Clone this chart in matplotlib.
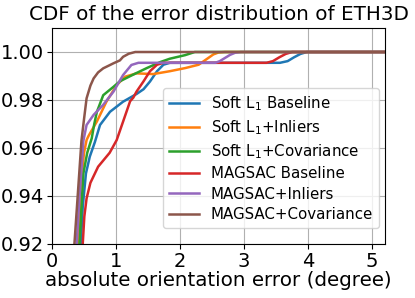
import matplotlib
matplotlib.use("Agg")
import matplotlib.pyplot as plt

labels = ["Soft L$_1$ Baseline", "Soft L$_1$+Inliers", "Soft L$_1$+Covariance",
          "MAGSAC Baseline", "MAGSAC+Inliers", "MAGSAC+Covariance"]
colors = ["#1f77b4", "#ff7f0e", "#2ca02c", "#d62728", "#9467bd", "#8c564b"]

soft_base_x = [0.43, 0.45, 0.48, 0.53, 0.59, 0.67, 0.75, 0.906, 1.11, 1.32, 1.43, 1.53, 1.64, 1.74, 1.84, 3.56, 3.68, 3.78, 3.88, 3.98, 5.2]
soft_base_y = [0.90, 0.92, 0.9355, 0.9494, 0.9564, 0.9625, 0.9696, 0.9751, 0.9793, 0.9825, 0.9845, 0.9877, 0.992, 0.9947, 0.9955, 0.9955, 0.9962, 0.9978, 0.9992, 1.0, 1.0]

soft_inl_x = [0.38, 0.41, 0.45, 0.50, 0.54, 0.57, 0.70, 0.85, 1.01, 1.14, 1.32, 1.58, 1.84, 2.08, 2.29, 2.44, 2.52, 2.60, 2.70, 5.2]
soft_inl_y = [0.90, 0.92, 0.945, 0.958, 0.9633, 0.965, 0.971, 0.9793, 0.9862, 0.9897, 0.9911, 0.9908, 0.992, 0.9933, 0.9947, 0.9975, 0.999, 0.9998, 1.0, 1.0]

soft_cov_x = [0.41, 0.43, 0.46, 0.49, 0.55, 0.62, 0.66, 0.70, 0.80, 0.96, 1.06, 1.27, 1.48, 1.69, 1.84, 2.08, 2.23, 5.2]
soft_cov_y = [0.90, 0.92, 0.935, 0.9494, 0.958, 0.964, 0.970, 0.975, 0.982, 0.9855, 0.9878, 0.9906, 0.9933, 0.9958, 0.9972, 0.9987, 1.0, 1.0]

mag_base_x = [0.46, 0.48, 0.505, 0.54, 0.60, 0.72, 0.90, 1.01, 1.11, 1.22, 1.27, 1.32, 1.43, 1.53, 1.64, 1.74, 3.35, 3.45, 3.55, 3.65, 3.75, 5.2]
mag_base_y = [0.90, 0.92, 0.9315, 0.9390, 0.9455, 0.9522, 0.958, 0.9633, 0.971, 0.9795, 0.981, 0.9835, 0.9878, 0.992, 0.9947, 0.9955, 0.9955, 0.9962, 0.9978, 0.9992, 1.0, 1.0]

mag_inl_x = [0.36, 0.385, 0.43, 0.47, 0.49, 0.54, 0.65, 0.80, 0.96, 1.11, 1.24, 1.35, 2.55, 2.62, 2.70, 2.78, 2.86, 2.95, 5.2]
mag_inl_y = [0.90, 0.92, 0.94, 0.955, 0.963, 0.9696, 0.9738, 0.978, 0.9835, 0.9904, 0.9946, 0.9955, 0.9955, 0.9962, 0.9975, 0.9988, 0.9997, 1.0, 1.0]

mag_cov_x = [0.33, 0.35, 0.40, 0.46, 0.50, 0.54, 0.60, 0.65, 0.72, 0.80, 0.90, 0.96, 1.06, 1.11, 1.20, 1.30, 5.2]
mag_cov_y = [0.90, 0.92, 0.9395, 0.963, 0.972, 0.9807, 0.986, 0.989, 0.9915, 0.9932, 0.9945, 0.9953, 0.9965, 0.998, 0.9993, 1.0, 1.0]

series = [(soft_base_x, soft_base_y), (soft_inl_x, soft_inl_y), (soft_cov_x, soft_cov_y),
          (mag_base_x, mag_base_y), (mag_inl_x, mag_inl_y), (mag_cov_x, mag_cov_y)]

x_ticks = [0, 1, 2, 3, 4, 5]
y_ticks = [0.92, 0.94, 0.96, 0.98, 1.00]

fig = plt.figure(figsize=(4.15, 2.98), dpi=100)
ax = fig.add_axes([52/415, 1-244/298, 333/415, 216/298])
for (xs, ys), lab, c in zip(series, labels, colors):
    ax.plot(xs, ys, color=c, label=lab, lw=1.8)

ax.set_xlim(0, 5.2)
ax.set_ylim(0.92, 1.01)
ax.set_xticks(x_ticks)
ax.set_yticks(y_ticks)
ax.set_yticklabels([f"{v:.2f}" for v in y_ticks])
ax.tick_params(labelsize=14, pad=2)
ax.grid(True)
ax.set_title("CDF of the error distribution of ETH3D", fontsize=14.3)
ax.set_xlabel("absolute orientation error (degree)", fontsize=14.3, labelpad=0)
ax.legend(fontsize=10.8, loc="lower right", bbox_to_anchor=(0.982, 0.074),
          borderaxespad=0, labelspacing=0.36)

fig.savefig("out.png", dpi=100)
